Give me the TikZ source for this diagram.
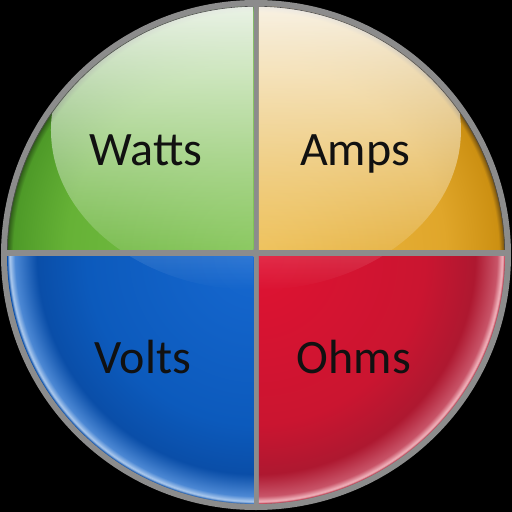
\documentclass[tikz,border=0pt]{standalone}
\usepackage{fontspec}
\setmainfont{Carlito}
\usetikzlibrary{fadings}
\definecolor{rimgray}{HTML}{8C8C8C}
\definecolor{txt}{HTML}{111111}
\definecolor{greenA}{HTML}{7CC24C}
\definecolor{greenB}{HTML}{66B236}
\definecolor{greenC}{HTML}{4E9A28}
\definecolor{greenD}{HTML}{2E5A18}
\definecolor{goldA}{HTML}{EDBB48}
\definecolor{goldB}{HTML}{E0A62A}
\definecolor{goldC}{HTML}{CC9012}
\definecolor{goldD}{HTML}{6A4A10}
\definecolor{blueA}{HTML}{1668D0}
\definecolor{blueB}{HTML}{0C5ABC}
\definecolor{blueC}{HTML}{0A4EA8}
\definecolor{blueD}{HTML}{4C88D4}
\definecolor{blueE}{HTML}{B0CCEE}
\definecolor{redA}{HTML}{E01232}
\definecolor{redB}{HTML}{CA1530}
\definecolor{redC}{HTML}{AE1830}
\definecolor{redD}{HTML}{C85468}
\definecolor{redE}{HTML}{F2B8C0}
\pgfdeclareradialshading{greenglx}{\pgfpoint{0bp}{0bp}}{color(0bp)=(greenA); color(19bp)=(greenB); color(24.4bp)=(greenC); color(25bp)=(greenD); color(50bp)=(greenD)}
\pgfdeclareradialshading{goldgl}{\pgfpoint{0bp}{0bp}}{color(0bp)=(goldA); color(19bp)=(goldB); color(24.4bp)=(goldC); color(25bp)=(goldD); color(50bp)=(goldD)}
\pgfdeclareradialshading{bluegl}{\pgfpoint{0bp}{0bp}}{color(0bp)=(blueA); color(17bp)=(blueB); color(22bp)=(blueC); color(24.2bp)=(blueD); color(24.75bp)=(blueE); color(25bp)=(blueC); color(50bp)=(blueC)}
\pgfdeclareradialshading{redgl}{\pgfpoint{0bp}{0bp}}{color(0bp)=(redA); color(17bp)=(redB); color(22bp)=(redC); color(24.2bp)=(redD); color(24.75bp)=(redE); color(25bp)=(redC); color(50bp)=(redC)}
\tikzfading[name=hlfade, top color=transparent!0, bottom color=transparent!100]
\begin{document}
\begin{tikzpicture}[x=1pt,y=1pt,
  lbl/.style={text=txt, font=\fontsize{48}{52}\selectfont, anchor=base, inner sep=0pt},
  gloss/.style={white, path fading=hlfade}]
\useasboundingbox (-256,-256) rectangle (256,256);
\fill[black] (-256,-256) rectangle (256,256);
\fill[rimgray] (0,1) circle (255);
% top-left (green)
\begin{scope}
  \clip (-300,6.5) rectangle (-2.5,300);
  \clip (0,1) circle (249);
  \shade[shading=greenglx] (0,1) circle (249);
  \fill[gloss] (0,126) ellipse (205 and 160);
  \draw[black!70, line width=1.2pt] (0,1) circle (249);
\end{scope}
% top-right (gold)
\begin{scope}
  \clip (3,6.5) rectangle (300,300);
  \clip (0,1) circle (249);
  \shade[shading=goldgl] (0,1) circle (249);
  \fill[gloss] (0,126) ellipse (205 and 160);
  \draw[black!70, line width=1.2pt] (0,1) circle (249);
\end{scope}
% bottom-left (blue)
\begin{scope}
  \clip (-300,-300) rectangle (-2.5,0);
  \clip (0,1) circle (249);
  \shade[shading=bluegl] (0,1) circle (249);
  \fill[gloss] (0,126) ellipse (205 and 160);
\end{scope}
% bottom-right (red)
\begin{scope}
  \clip (3,-300) rectangle (300,0);
  \clip (0,1) circle (249);
  \shade[shading=redgl] (0,1) circle (249);
  \fill[gloss] (0,126) ellipse (205 and 160);
\end{scope}
\node[lbl] (watts) at (-110,91) {Watts};
\node[lbl] (amps) at (99,91) {Amps};
\node[lbl] (volts) at (-113,-117) {Volts};
\node[lbl] (ohms) at (98,-117) {Ohms};
\end{tikzpicture}
\end{document}
